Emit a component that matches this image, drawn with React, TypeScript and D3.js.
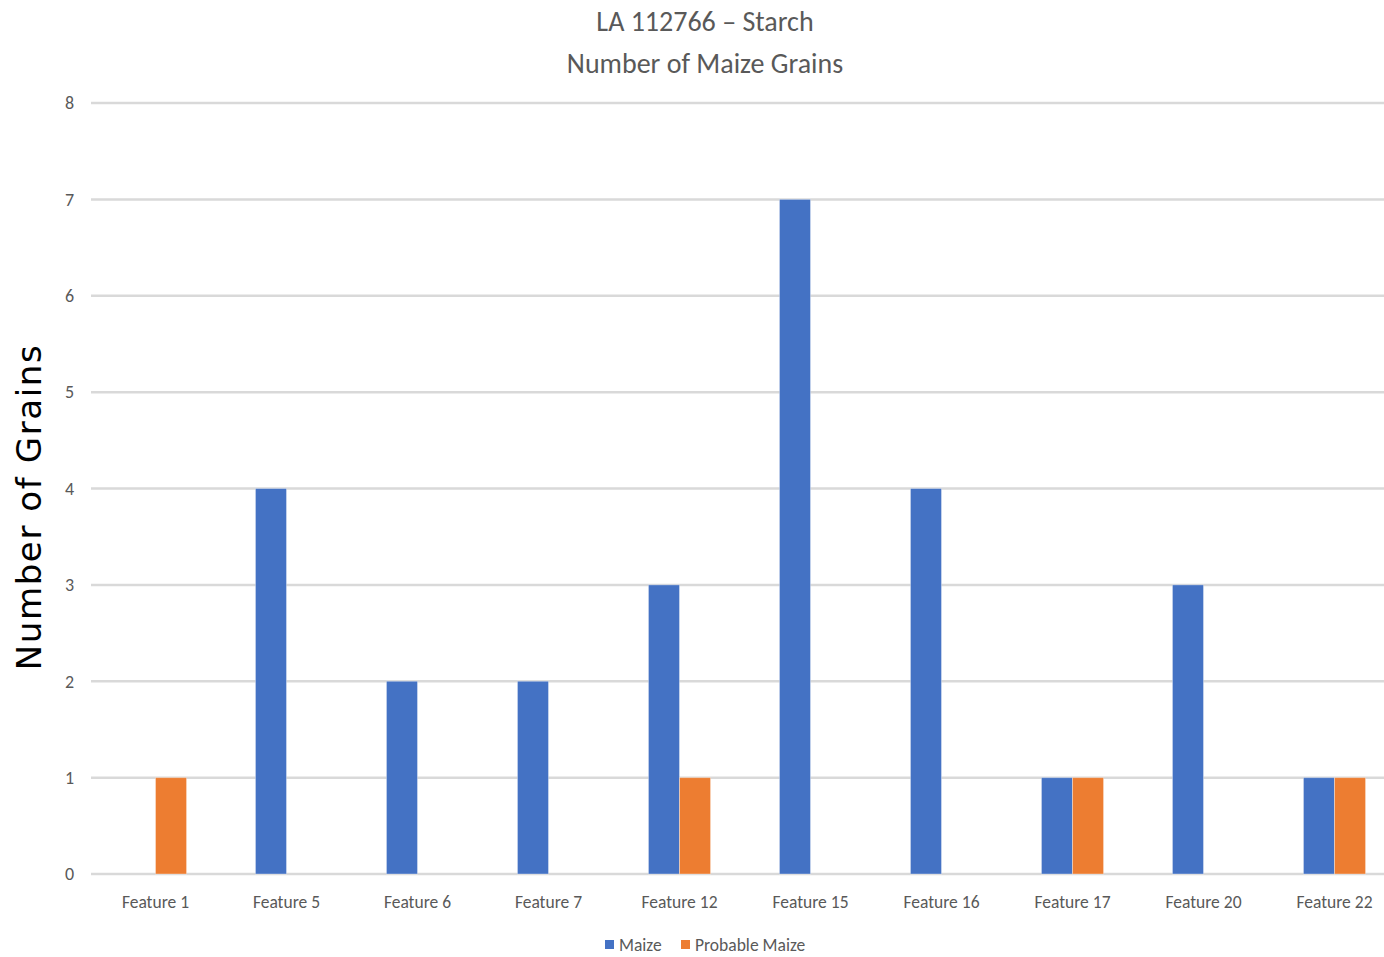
import React from "react";
import * as d3 from "d3";

const categories = [
  "Feature 1",
  "Feature 5",
  "Feature 6",
  "Feature 7",
  "Feature 12",
  "Feature 15",
  "Feature 16",
  "Feature 17",
  "Feature 20",
  "Feature 22",
];
const seriesNames = ["Maize", "Probable Maize"];
const maize = [0, 4, 2, 2, 3, 7, 4, 1, 3, 1];
const probableMaize = [1, 0, 0, 0, 1, 0, 0, 1, 0, 1];
const yTicks = [0, 1, 2, 3, 4, 5, 6, 7, 8];
const titleLines = ["LA 112766 – Starch", "Number of Maize Grains"];
const yTitle = "Number of Grains";

const colors = ["#4472C4", "#ED7D31"];
const W = 1384;
const H = 957;
const labelFont = "Carlito, Lato, 'Open Sans', sans-serif";

export default function App() {
  const values = [maize, probableMaize];
  const x0 = d3.scaleBand<string>().domain(categories).range([90, 1400]).padding(0);
  const x1 = d3
    .scaleBand<string>()
    .domain(seriesNames)
    .range([0, x0.bandwidth()])
    .paddingInner(0)
    .paddingOuter(1.11);
  const y = d3.scaleLinear().domain([0, 8]).range([874, 103]);

  return (
    <svg
      width={W}
      height={H}
      style={{ position: "absolute", left: 0, top: 0, background: "#fff" }}
    >
      {/* gridlines */}
      {yTicks.map((t) => (
        <line
          key={"g" + t}
          x1={91}
          x2={W}
          y1={y(t)}
          y2={y(t)}
          stroke="#d9d9d9"
          strokeWidth={2.5}
        />
      ))}
      {/* y tick labels */}
      {yTicks.map((t) => (
        <text
          key={"t" + t}
          x={74}
          y={y(t)}
          dy="0.35em"
          textAnchor="end"
          fontFamily={labelFont}
          fontSize={18}
          fill="#595959"
        >
          {t}
        </text>
      ))}
      {/* bars */}
      {categories.map((c, i) => (
        <g key={c} transform={`translate(${x0(c)},0)`}>
          {seriesNames.map((s, k) => {
            const v = values[k][i];
            if (!v) return null;
            return (
              <rect
                key={s}
                x={x1(s)}
                y={y(v)}
                width={x1.bandwidth()}
                height={y(0) - y(v)}
                fill={colors[k]}
                stroke="#ffffff"
                strokeOpacity={0.35}
                strokeWidth={1}
              />
            );
          })}
          <text
            x={x0.bandwidth() / 2}
            y={908}
            textAnchor="middle"
            fontFamily={labelFont}
            fontSize={17.5}
            fill="#595959"
          >
            {c}
          </text>
        </g>
      ))}
      {/* title */}
      {titleLines.map((l, i) => (
        <text
          key={l}
          x={705}
          y={31 + i * 42}
          textAnchor="middle"
          fontFamily={labelFont}
          fontSize={28}
          fill="#595959"
        >
          {l}
        </text>
      ))}
      {/* y axis title */}
      <text
        transform="translate(41,507) rotate(-90)"
        textAnchor="middle"
        fontFamily="'DejaVu Sans', Verdana, sans-serif"
        fontSize={34}
        letterSpacing={1.6}
        fill="#000"
      >
        {yTitle}
      </text>
      {/* legend */}
      {seriesNames.map((s, k) => {
        const lx = [605, 681][k];
        return (
          <g key={s}>
            <rect x={lx} y={940} width={9} height={9} fill={colors[k]} />
            <text
              x={lx + 14}
              y={951}
              fontFamily={labelFont}
              fontSize={17.5}
              fill="#595959"
            >
              {s}
            </text>
          </g>
        );
      })}
    </svg>
  );
}
